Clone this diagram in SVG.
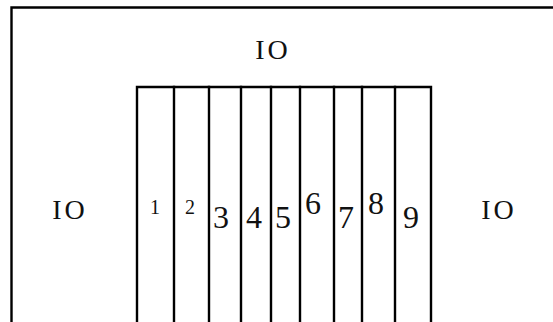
<svg xmlns="http://www.w3.org/2000/svg" width="553" height="322" viewBox="0 0 553 322">
<style>
.ln{fill:none;stroke:#000;stroke-width:2.4;stroke-linecap:square}
.t{font-family:"Liberation Serif","Times New Roman",serif;fill:#111;text-anchor:middle}
.io{font-size:28px;letter-spacing:3px}
.sm{font-size:20px}
.lg{font-size:32px}
</style>
<rect width="553" height="322" fill="#fff"/>
<g id="outer">
<path class="ln" d="M11.5,330 V7.5 H560"/>
<text class="t io" x="273" y="59">IO</text>
<text class="t io" x="70" y="219">IO</text>
<text class="t io" x="499" y="219">IO</text>
</g>
<g id="columns">
<path class="ln" d="M137,330 V87 H431 V330"/>
<path class="ln" d="M174,87 V330 M209,87 V330 M241,87 V330 M271,87 V330 M300,87 V330 M334,87 V330 M362,87 V330 M395,87 V330"/>
</g>
<g id="labels">
<text class="t sm" x="155" y="214">1</text>
<text class="t sm" x="190" y="214">2</text>
<text class="t lg" x="221" y="228">3</text>
<text class="t lg" x="254" y="228">4</text>
<text class="t lg" x="283" y="228">5</text>
<text class="t lg" x="313" y="214">6</text>
<text class="t lg" x="346" y="228">7</text>
<text class="t lg" x="376" y="214">8</text>
<text class="t lg" x="411" y="228">9</text>
</g>
</svg>
